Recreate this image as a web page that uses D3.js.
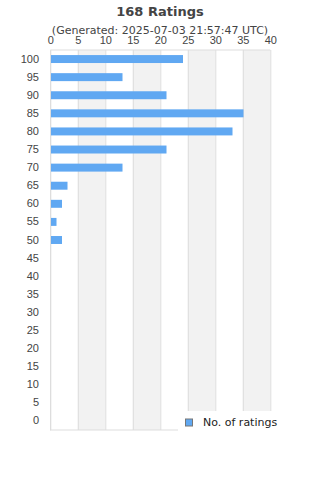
<!DOCTYPE html>
<html>
<head>
<meta charset="utf-8">
<script src="https://cdn.jsdelivr.net/npm/d3@7"></script>
<style>
  body { margin: 0; background: #fff; }
  svg { display: block; font-family: "DejaVu Sans", sans-serif; }
</style>
</head>
<body>
<div id="chart"></div>
<script>
// rating buckets, top to bottom
const categories = ['100', '95', '90', '85', '80', '75', '70', '65', '60', '55', '50',
    '45', '40', '35', '30', '25', '20', '15', '10', '5', '0'];
const ratingCounts = [24, 13, 21, 35, 33, 21, 13, 3, 2, 1, 2, 0, 0, 0, 0, 0, 0, 0, 0, 0, 0];
const xTicks = [0, 5, 10, 15, 20, 25, 30, 35, 40];
const titleText = '168 Ratings';
const subtitleText = '(Generated: 2025-07-03 21:57:47 UTC)';
const legendLabel = 'No. of ratings';

const width = 320, height = 480;
const margin = { top: 50, right: 50, bottom: 50, left: 50 };
const innerWidth = width - margin.left - margin.right;
const innerHeight = height - margin.top - margin.bottom;

const svg = d3.select('#chart').append('svg')
    .attr('width', width)
    .attr('height', height);

const g = svg.append('g')
    .attr('transform', `translate(${margin.left},${margin.top})`);

const xScale = d3.scaleLinear()
    .domain([0, 40])
    .range([0.3, innerWidth + 0.3]);

const yScale = d3.scaleBand()
    .domain(categories)
    .range([0, innerHeight])
    .paddingInner(0.56)
    .paddingOuter(0.28);

// alternating column bands
const bands = d3.pairs(xTicks).filter((d, i) => i % 2 === 1);
g.selectAll('.band')
    .data(bands)
    .enter()
    .append('rect')
    .attr('class', 'band')
    .attr('x', d => xScale(d[0]))
    .attr('width', d => xScale(d[1]) - xScale(d[0]))
    .attr('y', 0)
    .attr('height', innerHeight)
    .attr('fill', '#f2f2f2');

// vertical grid lines
g.append('g')
    .attr('class', 'grid')
    .call(d3.axisTop(xScale)
        .tickValues(xTicks)
        .tickSize(-innerHeight)
        .tickFormat('')
    )
    .call(a => a.select('.domain').remove())
    .selectAll('line')
    .attr('stroke', '#dddddd')
    .attr('stroke-width', 1);

// outer frame
g.append('line')
    .attr('x1', xScale(0)).attr('x2', xScale(40))
    .attr('y1', 0).attr('y2', 0)
    .attr('stroke', '#dddddd');
g.append('line')
    .attr('x1', xScale(0)).attr('x2', xScale(40))
    .attr('y1', innerHeight).attr('y2', innerHeight)
    .attr('stroke', '#dddddd');

// bars
g.selectAll('.bar')
    .data(ratingCounts)
    .enter()
    .append('rect')
    .attr('class', 'bar')
    .attr('x', xScale(0) + 0.7)
    .attr('y', (d, i) => yScale(categories[i]))
    .attr('width', d => Math.max(0, xScale(d) - xScale(0)))
    .attr('height', yScale.bandwidth())
    .attr('fill', '#60a8f2');

// top axis labels
const xAxis = g.append('g')
    .call(d3.axisTop(xScale).tickValues(xTicks).tickSize(0).tickPadding(6));
xAxis.select('.domain').remove();
xAxis.selectAll('text')
    .attr('fill', '#444')
    .style('font-size', '11px');

// left axis labels
const yAxis = g.append('g')
    .call(d3.axisLeft(yScale).tickSize(0).tickPadding(11));
yAxis.select('.domain').attr('stroke', '#dddddd');
yAxis.selectAll('text')
    .attr('fill', '#444')
    .style('font-size', '11px');

// title
svg.append('text')
    .attr('x', width / 2)
    .attr('y', 16)
    .attr('text-anchor', 'middle')
    .attr('fill', '#444')
    .style('font-size', '13px')
    .style('font-weight', 'bold')
    .text(titleText);

svg.append('text')
    .attr('x', width / 2)
    .attr('y', 34)
    .attr('text-anchor', 'middle')
    .attr('fill', '#444')
    .style('font-size', '11px')
    .text(subtitleText);

// legend
const legend = svg.append('g')
    .attr('transform', 'translate(178,408)');
legend.append('rect')
    .attr('y', 3)
    .attr('width', 104)
    .attr('height', 26)
    .attr('fill', '#fff');
legend.append('rect')
    .attr('x', 7.5)
    .attr('y', 11)
    .attr('width', 7)
    .attr('height', 7)
    .attr('fill', '#60a8f2')
    .attr('stroke', '#777');
legend.append('text')
    .attr('x', 25)
    .attr('y', 14)
    .attr('dy', '0.35em')
    .attr('fill', '#222')
    .style('font-size', '11px')
    .text(legendLabel);
</script>
</body>
</html>
